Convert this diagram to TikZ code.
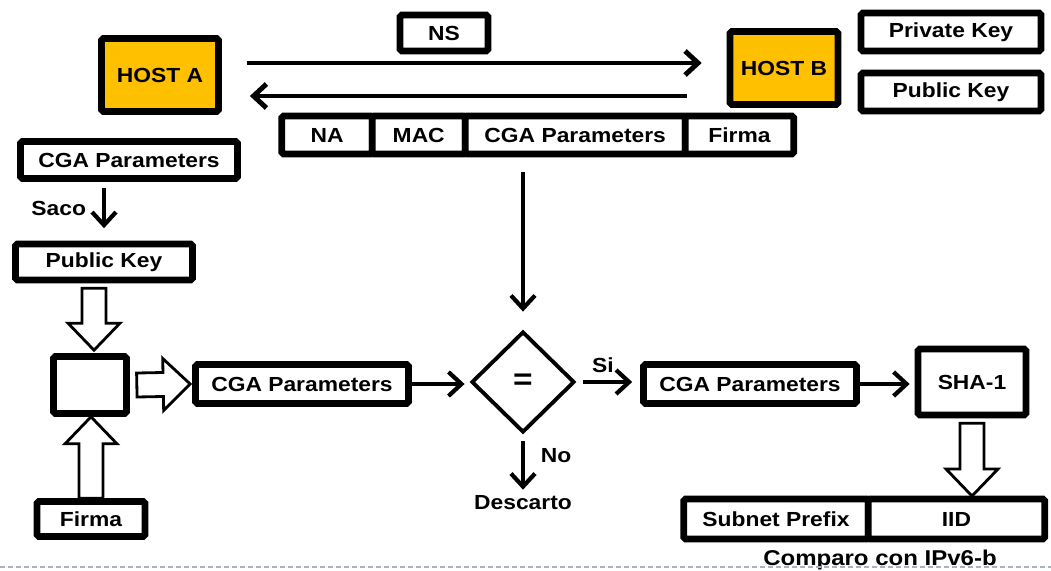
\documentclass[tikz,border=0pt]{standalone}
\usepackage{fontspec}
\setmainfont{Liberation Sans}[FakeStretch=1.12]
\usepackage{tikz}
\usetikzlibrary{positioning,calc,shapes.geometric,arrows.meta}
\definecolor{hostorange}{HTML}{FFC000}
\definecolor{dashgray}{HTML}{A9B1BF}

% block arrow with a hollow outline, from tail #1 to tip #2
\newcommand{\hollowarrow}[2]{%
  \coordinate (hb) at ($(#2)!0.54cm!(#1)$);
  \draw [hollow] ($(#1)!0.24cm!90:(#2)$) -- ($(hb)!0.24cm!90:(#2)$)
    -- ($(hb)!0.52cm!90:(#2)$) -- (#2) -- ($(hb)!0.52cm!-90:(#2)$)
    -- ($(hb)!0.24cm!-90:(#2)$) -- ($(#1)!0.24cm!-90:(#2)$) -- cycle;}

\begin{document}
\begin{tikzpicture}[x=0.02cm, y=-0.02cm,
        font=\bfseries\fontsize{11.6}{13}\selectfont,
        box/.style={draw, line width=3.8pt, rounded corners=1pt, fill=white, inner sep=0pt},
        host/.style={box, fill=hostorange},
        cell/.style={box, outer sep=0pt, minimum height=0.76cm},
        arrow/.style={line width=2.4pt, -{Straight Barb[length=2.6mm,width=4.8mm]}},
        hollow/.style={draw, line width=1.6pt, fill=white, line join=miter}
    ]
        \useasboundingbox (0,0) rectangle (1051,571);

        % Hosts and keys
        \node (hostA) [host, minimum width=2.34cm, minimum height=1.46cm] at (160,75) {HOST A};
        \node (ns) [box, minimum width=1.76cm, minimum height=0.72cm] at (444,33) {NS};
        \node (hostB) [host, minimum width=2.16cm, minimum height=1.46cm] at (784,68) {HOST B};
        \node (privB) [box, minimum width=3.6cm, minimum height=0.76cm] at (951,32) {Private Key};
        \node (pubB) [box, minimum width=3.6cm, minimum height=0.76cm] at (951,92) {Public Key};

        % Message fields
        \node (na) [cell, minimum width=1.81cm] at (327,135) {NA};
        \node (mac) [cell, minimum width=1.86cm, right=0pt of na] {MAC};
        \node (cgaM) [cell, minimum width=4.4cm, right=0pt of mac] {CGA Parameters};
        \node (firmaM) [cell, minimum width=2.17cm, right=0pt of cgaM] {Firma};

        % Left column
        \node (cgaA) [box, minimum width=4.34cm, minimum height=0.74cm] at (129,160) {CGA Parameters};
        \node (pkA) [box, minimum width=3.54cm, minimum height=0.72cm] at (104,262) {Public Key};
        \node (mix) [box, minimum width=1.46cm, minimum height=1.14cm] at (90,385) {};
        \node (firmaA) [box, minimum width=2.16cm, minimum height=0.7cm] at (91,519) {Firma};

        % Comparison
        \node (cgaB) [box, minimum width=4.26cm, minimum height=0.78cm] at (302,384) {CGA Parameters};
        \node (eq) [diamond, draw, line width=2.2pt, aspect=1, minimum width=2.06cm, minimum height=2.02cm,
            inner sep=0pt, font=\bfseries\fontsize{17}{19}\selectfont] at (523,382) {=};
        \node (desc) at (523,503) {Descarto};

        % Right column
        \node (cgaC) [box, minimum width=4.26cm, minimum height=0.78cm] at (750,384) {CGA Parameters};
        \node (sha) [box, minimum width=2.16cm, minimum height=1.32cm] at (972,382) {SHA-1};
        \node (subnet) [cell, minimum width=3.69cm, minimum height=0.8cm] at (776,519) {Subnet Prefix};
        \node (iid) [cell, minimum width=3.53cm, minimum height=0.8cm, right=0pt of subnet] {IID};
        \node (cmp) [font=\bfseries\fontsize{12.2}{14}\selectfont] at (880,560) {Comparo con IPv6-b};

        % Exchange between hosts
        \draw [arrow, line width=2.8pt] ($(hostA.east |- 0,63)+(25,0)$) -- ($(hostB.west |- 0,63)+(-25,0)$);
        \draw [arrow, line width=2.8pt] ($(hostB.west |- 0,96)+(-40,0)$) -- ($(hostA.east |- 0,96)+(28,0)$);
        \draw [arrow] (eq.north |- 0,172) -- ([yshift=0.36cm]eq.north);

        % Left column arrows
        \draw [arrow] (pkA.north |- 0,188) -- node[left=0.2cm] {Saco} ([yshift=0.25cm]pkA.north);
        \hollowarrow{[shift={(0.08cm,1.3cm)}]mix.north}{[shift={(0.08cm,0.06cm)}]mix.north}
        \hollowarrow{firmaA.north}{firmaA.north |- mix.south}
        \hollowarrow{[xshift=0.14cm]mix.east}{[xshift=-0.04cm]cgaB.west}

        % Comparison arrows
        \draw [arrow] (cgaB.east) -- ([xshift=-0.1cm]eq.west |- cgaB.east);
        \draw [arrow] ([xshift=0.14cm]eq.east) -- node[above=1pt, pos=0.4] {Si} ([xshift=-0.16cm]cgaC.west |- eq.east);
        \draw [arrow] ([yshift=-0.14cm]eq.south) -- node[right=0.2cm, pos=0.3] {No} (desc.north);
        \draw [arrow] (cgaC.east) -- ([xshift=-0.1cm]sha.west |- cgaC.east);
        \hollowarrow{[yshift=-0.1cm]sha.south}{[yshift=0.06cm]sha.south |- iid.north}

        % Footer rule
        \draw [dashgray, line width=0.8pt, dash pattern=on 0.1cm off 0.06cm] (0,567) -- (1051,567);
    \end{tikzpicture}
\end{document}
